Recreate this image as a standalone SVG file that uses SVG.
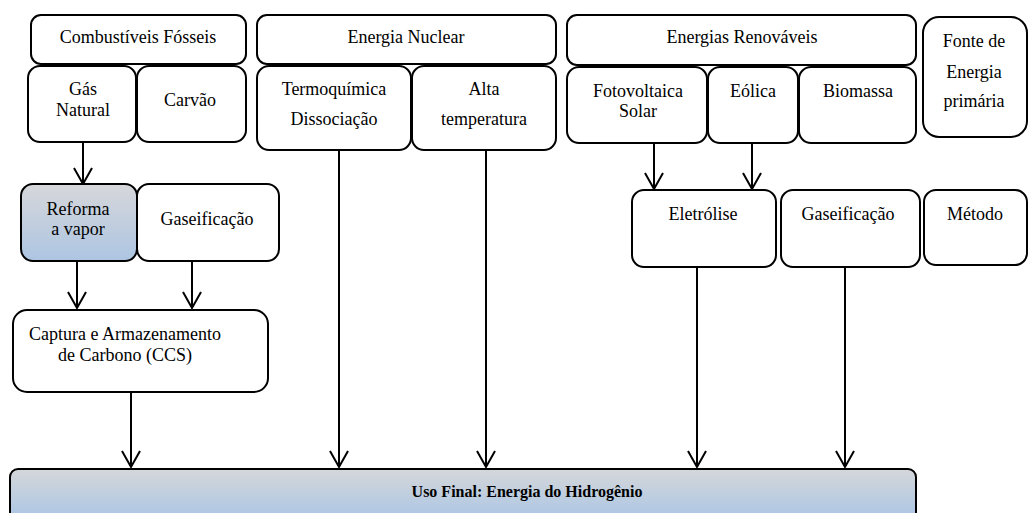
<svg xmlns="http://www.w3.org/2000/svg" width="1029" height="513" viewBox="0 0 1029 513">
<defs>
<marker id="a" markerUnits="userSpaceOnUse" markerWidth="20" markerHeight="20" refX="17" refY="10" orient="auto" viewBox="0 0 20 20">
<path d="M1,1 L17,10 L1,19" fill="none" stroke="#000" stroke-width="2"/>
</marker>
<linearGradient id="g" x1="0" y1="0" x2="0" y2="1">
<stop offset="0" stop-color="#d6d7da"/>
<stop offset="1" stop-color="#adc5e2"/>
</linearGradient>
<linearGradient id="g2" x1="0" y1="469" x2="0" y2="513" gradientUnits="userSpaceOnUse">
<stop offset="0" stop-color="#d5d7d9"/>
<stop offset="1" stop-color="#b0c8e4"/>
</linearGradient>
</defs>
<rect width="1029" height="513" fill="#fff"/>
<g id="connectors" stroke="#000" stroke-width="2" fill="none" marker-end="url(#a)">
<line x1="83" y1="142" x2="83" y2="184"/>
<line x1="77" y1="261" x2="77" y2="308"/>
<line x1="192" y1="261" x2="192" y2="308"/>
<line x1="131" y1="392" x2="131" y2="467"/>
<line x1="339" y1="150" x2="339" y2="467"/>
<line x1="486" y1="150" x2="486" y2="467"/>
<line x1="654" y1="143" x2="654" y2="189"/>
<line x1="752" y1="143" x2="752" y2="189"/>
<line x1="697" y1="267" x2="697" y2="467"/>
<line x1="845" y1="267" x2="845" y2="467"/>
</g>
<g id="combustiveis"><rect fill="#fff" stroke="#000" stroke-width="2" x="31" y="15" width="215" height="49" rx="10"/><text font-family="Times New Roman" font-size="18" text-anchor="middle" x="138" y="43">Combustíveis Fósseis</text></g>
<g id="gas-natural"><rect fill="#fff" stroke="#000" stroke-width="2" x="28" y="66" width="108" height="76" rx="12"/><text font-family="Times New Roman" font-size="18" text-anchor="middle" x="83" y="95">Gás</text><text font-family="Times New Roman" font-size="18" text-anchor="middle" x="83" y="116">Natural</text></g>
<g id="carvao"><rect fill="#fff" stroke="#000" stroke-width="2" x="137" y="66" width="109" height="76" rx="12"/><text font-family="Times New Roman" font-size="18" text-anchor="middle" x="190" y="106">Carvão</text></g>
<g id="nuclear"><rect fill="#fff" stroke="#000" stroke-width="2" x="257" y="15" width="299" height="49" rx="10"/><text font-family="Times New Roman" font-size="18" text-anchor="middle" x="406" y="43">Energia Nuclear</text></g>
<g id="termoquimica"><rect fill="#fff" stroke="#000" stroke-width="2" x="257" y="66" width="154" height="84" rx="12"/><text font-family="Times New Roman" font-size="18" text-anchor="middle" x="334" y="95">Termoquímica</text><text font-family="Times New Roman" font-size="18" text-anchor="middle" x="334" y="125">Dissociação</text></g>
<g id="alta-temperatura"><rect fill="#fff" stroke="#000" stroke-width="2" x="412" y="66" width="144" height="84" rx="12"/><text font-family="Times New Roman" font-size="18" text-anchor="middle" x="484" y="95">Alta</text><text font-family="Times New Roman" font-size="18" text-anchor="middle" x="484" y="125">temperatura</text></g>
<g id="renovaveis"><rect fill="#fff" stroke="#000" stroke-width="2" x="567" y="15" width="349" height="50" rx="10"/><text font-family="Times New Roman" font-size="18" text-anchor="middle" x="742" y="43">Energias Renováveis</text></g>
<g id="fotovoltaica"><rect fill="#fff" stroke="#000" stroke-width="2" x="567" y="67" width="140" height="76" rx="12"/><text font-family="Times New Roman" font-size="18" text-anchor="middle" x="638" y="97">Fotovoltaica</text><text font-family="Times New Roman" font-size="18" text-anchor="middle" x="638" y="117">Solar</text></g>
<g id="eolica"><rect fill="#fff" stroke="#000" stroke-width="2" x="708" y="67" width="90" height="76" rx="12"/><text font-family="Times New Roman" font-size="18" text-anchor="middle" x="753" y="97">Eólica</text></g>
<g id="biomassa"><rect fill="#fff" stroke="#000" stroke-width="2" x="799" y="67" width="117" height="76" rx="12"/><text font-family="Times New Roman" font-size="18" text-anchor="middle" x="858" y="97">Biomassa</text></g>
<g id="fonte"><rect fill="#fff" stroke="#000" stroke-width="2" x="923" y="17" width="104" height="120" rx="16"/><text font-family="Times New Roman" font-size="18" text-anchor="middle" x="974" y="47">Fonte de</text><text font-family="Times New Roman" font-size="18" text-anchor="middle" x="974" y="78">Energia</text><text font-family="Times New Roman" font-size="18" text-anchor="middle" x="974" y="107">primária</text></g>
<g id="reforma"><rect x="21" y="184" width="116" height="77" rx="12" fill="url(#g)" stroke="#000" stroke-width="2"/><text font-family="Times New Roman" font-size="18" text-anchor="middle" x="78" y="215">Reforma</text><text font-family="Times New Roman" font-size="18" text-anchor="middle" x="78" y="235">a vapor</text></g>
<g id="gaseificacao-1"><rect fill="#fff" stroke="#000" stroke-width="2" x="137" y="184" width="142" height="77" rx="12"/><text font-family="Times New Roman" font-size="18" text-anchor="middle" x="207" y="225">Gaseificação</text></g>
<g id="ccs"><rect fill="#fff" stroke="#000" stroke-width="2" x="13" y="310" width="255" height="82" rx="14"/><text font-family="Times New Roman" font-size="18" text-anchor="middle" x="125" y="340">Captura e Armazenamento</text><text font-family="Times New Roman" font-size="18" text-anchor="middle" x="125" y="361">de Carbono (CCS)</text></g>
<g id="eletrolise"><rect fill="#fff" stroke="#000" stroke-width="2" x="632" y="190" width="144" height="77" rx="12"/><text font-family="Times New Roman" font-size="18" text-anchor="middle" x="703" y="220">Eletrólise</text></g>
<g id="gaseificacao-2"><rect fill="#fff" stroke="#000" stroke-width="2" x="781" y="190" width="139" height="77" rx="12"/><text font-family="Times New Roman" font-size="18" text-anchor="middle" x="848" y="220">Gaseificação</text></g>
<g id="metodo"><rect fill="#fff" stroke="#000" stroke-width="2" x="924" y="190" width="103" height="75" rx="12"/><text font-family="Times New Roman" font-size="18" text-anchor="middle" x="975" y="220">Método</text></g>
<g id="uso-final"><rect x="10" y="469" width="906" height="60" rx="8" fill="url(#g2)" stroke="#000" stroke-width="2"/><text font-family="Times New Roman" font-size="16" font-weight="bold" text-anchor="middle" x="527" y="497">Uso Final: Energia do Hidrogênio</text></g>
</svg>
